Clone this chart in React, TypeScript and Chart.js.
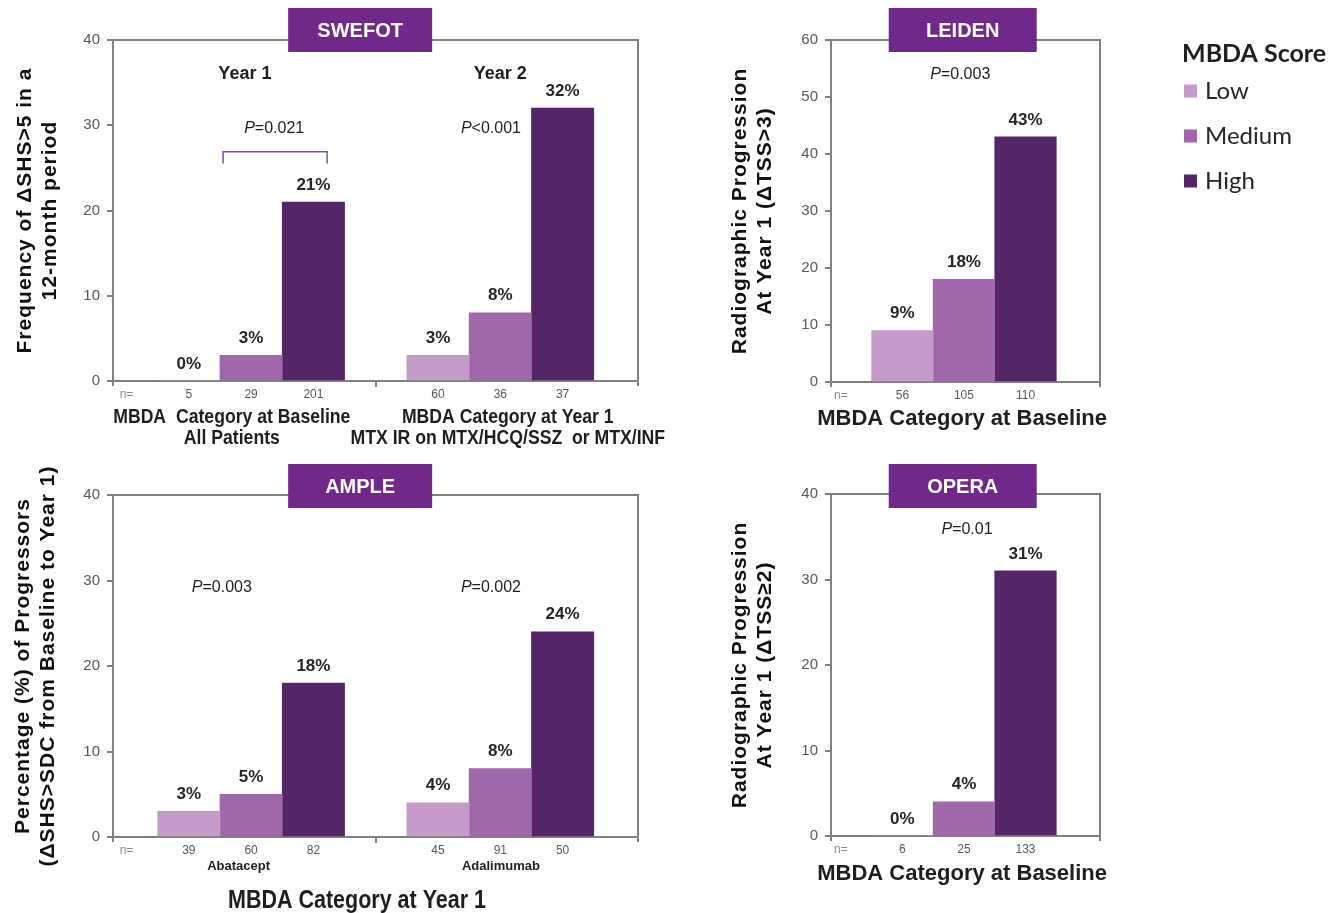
import React, { useEffect, useRef } from 'react';
import { Chart, registerables } from 'chart.js';

Chart.register(...registerables);

// ---------- data ----------
const LEVELS = ['Low', 'Medium', 'High'];
const legendTitle = 'MBDA Score';

// SWEFOT (two time points)
const swefotLow = [0, 3];
const swefotMedium = [3, 8];
const swefotHigh = [21, 32];
const swefotN = [[5, 29, 201], [60, 36, 37]];
const swefotPeriods = ['Year 1', 'Year 2'];
const swefotP = ['=0.021', '<0.001'];
const swefotCaptions = [
  ['MBDA  Category at Baseline', 'All Patients'],
  ['MBDA Category at Year 1', 'MTX IR on MTX/HCQ/SSZ  or MTX/INF'],
];
const swefotYTitle = ['Frequency of \u0394SHS>5 in a', '12-month period'];
const swefotYMax = 40;

// LEIDEN
const leidenLow = [9];
const leidenMedium = [18];
const leidenHigh = [43];
const leidenN = [[56, 105, 110]];
const leidenP = ['=0.003'];
const leidenYTitle = ['Radiographic Progression', 'At Year 1 (\u0394TSS>3)'];
const leidenYMax = 60;

// AMPLE (two treatment arms)
const ampleLow = [3, 4];
const ampleMedium = [5, 8];
const ampleHigh = [18, 24];
const ampleN = [[39, 60, 82], [45, 91, 50]];
const ampleDrugs = ['Abatacept', 'Adalimumab'];
const ampleP = ['=0.003', '=0.002'];
const ampleYTitle = ['Percentage (%) of Progressors', '(\u0394SHS>SDC from Baseline to Year 1)'];
const ampleYMax = 40;

// OPERA
const operaLow = [0];
const operaMedium = [4];
const operaHigh = [31];
const operaN = [[6, 25, 133]];
const operaP = ['=0.01'];
const operaYTitle = ['Radiographic Progression', 'At Year 1 (\u0394TSS\u22652)'];
const operaYMax = 40;

const baselineTitle = 'MBDA Category at Baseline';
const year1Title = 'MBDA Category at Year 1';

// ---------- styles ----------
const LEVEL_COLORS = ['#C49AC8', '#A068AA', '#542567'];
const TITLE_BG = '#70298A';
const BRACKET = '#8E4BAA';
const AXIS = '#808080';
const TICK_TEXT = '#595959';
const INK = '#1f1f1f';
const SANS = '"Liberation Sans", Arial, sans-serif';
const HUMANIST = 'Lato, "Open Sans", sans-serif';

type Note = {
  text: string;
  x: number; // category index position
  y?: number; // value position
  below?: number; // px below the axis
  font: string;
  scaleX?: number;
  color?: string;
};

type Panel = {
  id: string;
  name: string;
  box: { x: number; y: number; w: number; h: number };
  area: { left: number; top: number; right: number; bottom: number };
  xMin: number;
  xMax: number;
  yMax: number;
  series: number[][];
  n: number[][];
  titleAt: number;
  titleW: number;
  titleDy: number;
  yTitle: string[];
  yTitleOffsets: number[];
  pValues: { text: string; x: number; y: number }[];
  notes: Note[];
  bracket?: { x0: number; x1: number; top: number; foot: number };
  legend?: { x: number; titleY: number; y0: number; step: number };
};

// slot index of a bar: group g, level l  (slot 0 holds "n=")
const slot = (g: number, l: number) => 1 + g * 4 + l;

const PANELS: Panel[] = [
  {
    id: 'swefot',
    name: 'SWEFOT',
    box: { x: 0, y: 0, w: 700, h: 455 },
    area: { left: 113, top: 40, right: 638, bottom: 381 },
    xMin: -0.217,
    xMax: 8.21,
    yMax: swefotYMax,
    series: [swefotLow, swefotMedium, swefotHigh],
    n: swefotN,
    titleAt: 3.75,
    titleW: 144,
    titleDy: -32,
    yTitle: swefotYTitle,
    yTitleOffsets: [88, 63],
    pValues: [
      { text: swefotP[0], x: 2.37, y: 29.6 },
      { text: swefotP[1], x: 5.85, y: 29.6 },
    ],
    notes: [
      { text: swefotPeriods[0], x: 1.9, y: 36, font: `bold 18px ${SANS}` },
      { text: swefotPeriods[1], x: 6.0, y: 36, font: `bold 18px ${SANS}` },
      { text: swefotCaptions[0][0], x: 1.69, below: 36, font: `bold 21px ${SANS}`, scaleX: 0.84 },
      { text: swefotCaptions[0][1], x: 1.69, below: 57, font: `bold 21px ${SANS}`, scaleX: 0.84 },
      { text: swefotCaptions[1][0], x: 6.12, below: 36, font: `bold 21px ${SANS}`, scaleX: 0.84 },
      { text: swefotCaptions[1][1], x: 6.12, below: 57, font: `bold 21px ${SANS}`, scaleX: 0.84 },
    ],
    bracket: { x0: 1.55, x1: 3.22, top: 26.9, foot: 25.5 },
  },
  {
    id: 'leiden',
    name: 'LEIDEN',
    box: { x: 700, y: 0, w: 635, h: 455 },
    area: { left: 131, top: 40, right: 400, bottom: 382 },
    xMin: -0.16,
    xMax: 4.21,
    yMax: leidenYMax,
    series: [leidenLow, leidenMedium, leidenHigh],
    n: leidenN,
    titleAt: 1.98,
    titleW: 148,
    titleDy: -32,
    yTitle: leidenYTitle,
    yTitleOffsets: [91, 66],
    pValues: [{ text: leidenP[0], x: 1.94, y: 53.9 }],
    notes: [{ text: baselineTitle, x: 1.97, below: 37, font: `bold 22px ${SANS}` }],
    legend: { x: 482, titleY: 54, y0: 91, step: 45 },
  },
  {
    id: 'ample',
    name: 'AMPLE',
    box: { x: 0, y: 455, w: 700, h: 458 },
    area: { left: 113, top: 40, right: 638, bottom: 382 },
    xMin: -0.217,
    xMax: 8.21,
    yMax: ampleYMax,
    series: [ampleLow, ampleMedium, ampleHigh],
    n: ampleN,
    titleAt: 3.75,
    titleW: 144,
    titleDy: -31,
    yTitle: ampleYTitle,
    yTitleOffsets: [90, 65],
    pValues: [
      { text: ampleP[0], x: 1.53, y: 29.2 },
      { text: ampleP[1], x: 5.85, y: 29.2 },
    ],
    notes: [
      { text: ampleDrugs[0], x: 1.8, below: 29, font: `bold 13px ${SANS}` },
      { text: ampleDrugs[1], x: 6.01, below: 29, font: `bold 13px ${SANS}` },
      { text: year1Title, x: 3.7, below: 64, font: `bold 25px ${SANS}`, scaleX: 0.86 },
    ],
  },
  {
    id: 'opera',
    name: 'OPERA',
    box: { x: 700, y: 455, w: 635, h: 458 },
    area: { left: 131, top: 39, right: 400, bottom: 381 },
    xMin: -0.16,
    xMax: 4.21,
    yMax: operaYMax,
    series: [operaLow, operaMedium, operaHigh],
    n: operaN,
    titleAt: 1.98,
    titleW: 148,
    titleDy: -30,
    yTitle: operaYTitle,
    yTitleOffsets: [91, 66],
    pValues: [{ text: operaP[0], x: 2.05, y: 35.8 }],
    notes: [{ text: baselineTitle, x: 1.97, below: 38, font: `bold 22px ${SANS}` }],
  },
];

// ---------- drawing helpers ----------
function drawText(
  ctx: CanvasRenderingContext2D,
  text: string,
  x: number,
  y: number,
  font: string,
  color: string,
  align: CanvasTextAlign = 'center',
  scaleX = 1,
) {
  ctx.save();
  ctx.font = font;
  ctx.fillStyle = color;
  ctx.textAlign = align;
  ctx.textBaseline = 'middle';
  ctx.translate(x, y);
  ctx.scale(scaleX, 1);
  ctx.fillText(text, 0, 0);
  ctx.restore();
}

function drawPValue(ctx: CanvasRenderingContext2D, rest: string, cx: number, cy: number) {
  ctx.save();
  const italic = `italic 16px ${SANS}`;
  const normal = `16px ${SANS}`;
  ctx.font = italic;
  const wP = ctx.measureText('P').width;
  ctx.font = normal;
  const wR = ctx.measureText(rest).width;
  const start = cx - (wP + wR) / 2;
  drawText(ctx, 'P', start, cy, italic, INK, 'left');
  drawText(ctx, rest, start + wP, cy, normal, INK, 'left');
  ctx.restore();
}

function makeDecor(p: Panel) {
  return {
    id: 'panelDecor',
    afterDraw(chart: Chart) {
      const { ctx, chartArea: a } = chart;
      const xs = chart.scales.x;
      const ys = chart.scales.y;
      const px = (v: number) => xs.getPixelForValue(v);
      const py = (v: number) => ys.getPixelForValue(v);
      ctx.save();

      // plot frame (top and right sides) plus short end ticks under the x axis
      ctx.strokeStyle = AXIS;
      ctx.lineWidth = 2;
      ctx.beginPath();
      ctx.moveTo(a.left, a.top);
      ctx.lineTo(a.right, a.top);
      ctx.lineTo(a.right, a.bottom + 5);
      ctx.moveTo(a.left, a.bottom);
      ctx.lineTo(a.left, a.bottom + 5);
      ctx.stroke();

      // study name box
      const cx = px(p.titleAt);
      ctx.fillStyle = TITLE_BG;
      ctx.fillRect(cx - p.titleW / 2, a.top + p.titleDy, p.titleW, 44);
      drawText(ctx, p.name, cx, a.top + p.titleDy + 23, `bold 20px ${SANS}`, '#ffffff');

      // percentage labels above bars
      chart.data.datasets.forEach((ds: any, i: number) => {
        chart.getDatasetMeta(i).data.forEach((el: any, j: number) => {
          const v = ds.data[j].y;
          drawText(ctx, `${v}%`, el.x, el.y - 17, `bold 17px ${SANS}`, '#262626');
        });
      });

      // p-values
      p.pValues.forEach((pv) => drawPValue(ctx, pv.text, px(pv.x), py(pv.y)));

      // bracket
      if (p.bracket) {
        const b = p.bracket;
        ctx.strokeStyle = BRACKET;
        ctx.lineWidth = 1.5;
        ctx.beginPath();
        ctx.moveTo(px(b.x0), py(b.foot));
        ctx.lineTo(px(b.x0), py(b.top));
        ctx.lineTo(px(b.x1), py(b.top));
        ctx.lineTo(px(b.x1), py(b.foot));
        ctx.stroke();
      }

      // free text: period labels, category captions
      p.notes.forEach((n) => {
        const y = n.y !== undefined ? py(n.y) : a.bottom + (n.below || 0);
        drawText(ctx, n.text, px(n.x), y, n.font, n.color || INK, 'center', n.scaleX || 1);
      });

      // rotated y-axis title
      const midY = (a.top + a.bottom) / 2;
      p.yTitle.forEach((line, k) => {
        ctx.save();
        ctx.translate(a.left - p.yTitleOffsets[k], midY);
        ctx.rotate(-Math.PI / 2);
        ctx.font = `bold 21px ${SANS}`;
        (ctx as any).letterSpacing = '1px';
        ctx.fillStyle = '#111111';
        ctx.textAlign = 'center';
        ctx.textBaseline = 'middle';
        ctx.fillText(line, 0, 0);
        ctx.restore();
      });

      // shared legend
      if (p.legend) {
        const L = p.legend;
        drawText(ctx, legendTitle, L.x, L.titleY, `bold 25px ${HUMANIST}`, INK, 'left');
        chart.data.datasets.forEach((ds: any, i: number) => {
          const yy = L.y0 + i * L.step;
          ctx.fillStyle = ds.backgroundColor;
          ctx.fillRect(L.x + 2, yy - 6.5, 13, 13);
          drawText(ctx, ds.label, L.x + 23, yy, `24px ${HUMANIST}`, '#262626', 'left');
        });
      }
      ctx.restore();
    },
  };
}

function buildConfig(p: Panel): any {
  const datasets = LEVELS.map((level, l) => ({
    label: level,
    backgroundColor: LEVEL_COLORS[l],
    borderWidth: 0,
    grouped: false,
    barPercentage: 1,
    categoryPercentage: 1,
    data: p.series[l].map((v, g) => ({ x: slot(g, l), y: v })),
  }));
  const nLabel = (v: number) => {
    if (v === 0) return 'n=';
    const g = Math.floor((v - 1) / 4);
    const l = (v - 1) % 4;
    return p.n[g] && l < 3 ? String(p.n[g][l]) : '';
  };
  return {
    type: 'bar',
    data: { datasets },
    options: {
      responsive: false,
      animation: false,
      events: [],
      layout: {
        autoPadding: false,
        padding: { left: 0, top: p.area.top, right: p.box.w - p.area.right, bottom: 0 },
      },
      plugins: { legend: { display: false }, tooltip: { enabled: false } },
      scales: {
        x: {
          type: 'linear',
          offset: false,
          min: p.xMin,
          max: p.xMax,
          afterFit: (s: any) => {
            s.height = p.box.h - p.area.bottom;
          },
          border: { display: true, color: AXIS, width: 2 },
          grid: {
            offset: false,
            drawOnChartArea: false,
            drawTicks: true,
            tickLength: 6,
            lineWidth: 2,
            color: (c: any) =>
              c.tick && c.tick.value === 4 && p.n.length > 1 ? AXIS : 'rgba(0,0,0,0)',
          },
          ticks: {
            stepSize: 1,
            includeBounds: false,
            autoSkip: false,
            maxRotation: 0,
            padding: 0,
            font: { family: SANS, size: 12 },
            color: (c: any) => (c.tick && c.tick.value === 0 ? '#8c8c8c' : TICK_TEXT),
            callback: (v: any) => nLabel(Number(v)),
          },
        },
        y: {
          min: 0,
          max: p.yMax,
          afterFit: (s: any) => {
            s.width = p.area.left;
          },
          border: { display: true, color: AXIS, width: 2 },
          grid: { drawOnChartArea: false, drawTicks: true, tickLength: 6, lineWidth: 2, color: AXIS },
          ticks: {
            stepSize: 10,
            padding: 7,
            font: { family: SANS, size: 15 },
            color: TICK_TEXT,
          },
        },
      },
    },
    plugins: [makeDecor(p)],
  };
}

function PanelChart({ panel }: { panel: Panel }) {
  const ref = useRef<HTMLCanvasElement | null>(null);
  useEffect(() => {
    if (!ref.current) return;
    const chart = new Chart(ref.current, buildConfig(panel));
    return () => chart.destroy();
  }, [panel]);
  return (
    <canvas
      ref={ref}
      width={panel.box.w}
      height={panel.box.h}
      style={{ position: 'absolute', left: panel.box.x, top: panel.box.y, width: panel.box.w, height: panel.box.h }}
    />
  );
}

export default function App() {
  return (
    <div
      style={{
        position: 'absolute',
        left: 0,
        top: 0,
        width: 1335,
        height: 913,
        background: '#ffffff',
        overflow: 'hidden',
      }}
    >
      {PANELS.map((p) => (
        <PanelChart key={p.id} panel={p} />
      ))}
    </div>
  );
}
